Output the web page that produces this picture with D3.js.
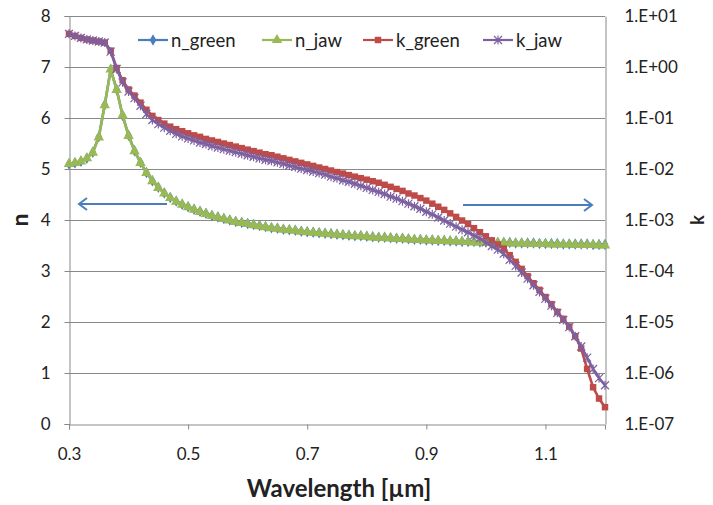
<!DOCTYPE html>
<html>
<head>
<meta charset="utf-8">
<script src="https://cdn.jsdelivr.net/npm/d3@7"></script>
<style>
  body { margin: 0; background: #fff; }
  svg { font-family: Lato, "Open Sans", sans-serif; }
</style>
</head>
<body>
<div class="grafico"></div>
<script>
// wavelength in um, sampled every 10 nm
var wavelength = [
  0.30,0.31,0.32,0.33,0.34,0.35,0.36,0.37,0.38,0.39,
  0.40,0.41,0.42,0.43,0.44,0.45,0.46,0.47,0.48,0.49,
  0.50,0.51,0.52,0.53,0.54,0.55,0.56,0.57,0.58,0.59,
  0.60,0.61,0.62,0.63,0.64,0.65,0.66,0.67,0.68,0.69,
  0.70,0.71,0.72,0.73,0.74,0.75,0.76,0.77,0.78,0.79,
  0.80,0.81,0.82,0.83,0.84,0.85,0.86,0.87,0.88,0.89,
  0.90,0.91,0.92,0.93,0.94,0.95,0.96,0.97,0.98,0.99,
  1.00,1.01,1.02,1.03,1.04,1.05,1.06,1.07,1.08,1.09,
  1.10,1.11,1.12,1.13,1.14,1.15,1.16,1.17,1.18,1.19,
  1.20];

var nGreen = [
  5.10,5.12,5.15,5.21,5.33,5.63,6.26,6.95,6.56,6.05,
  5.66,5.36,5.13,4.93,4.77,4.64,4.53,4.44,4.37,4.31,
  4.26,4.21,4.17,4.13,4.09,4.06,4.03,4.00,3.97,3.95,
  3.93,3.91,3.89,3.87,3.85,3.84,3.82,3.81,3.80,3.78,
  3.77,3.76,3.75,3.74,3.73,3.72,3.71,3.70,3.69,3.69,
  3.68,3.67,3.66,3.66,3.65,3.64,3.64,3.63,3.62,3.62,
  3.61,3.61,3.60,3.60,3.59,3.59,3.58,3.58,3.58,3.57,
  3.57,3.57,3.56,3.56,3.56,3.55,3.55,3.55,3.55,3.54,
  3.54,3.54,3.54,3.53,3.53,3.53,3.53,3.53,3.52,3.52,
  3.52];

var nJaw = [
  5.10,5.12,5.15,5.21,5.32,5.62,6.25,6.95,6.55,6.05,
  5.65,5.35,5.12,4.92,4.76,4.63,4.52,4.43,4.36,4.30,
  4.25,4.20,4.16,4.12,4.08,4.05,4.02,3.99,3.96,3.94,
  3.92,3.90,3.88,3.86,3.84,3.83,3.81,3.80,3.79,3.77,
  3.76,3.75,3.74,3.73,3.72,3.71,3.70,3.69,3.68,3.68,
  3.67,3.66,3.65,3.65,3.64,3.63,3.63,3.62,3.61,3.61,
  3.60,3.60,3.59,3.59,3.58,3.58,3.57,3.57,3.56,3.56,
  3.56,3.55,3.55,3.55,3.54,3.54,3.54,3.53,3.53,3.53,
  3.53,3.52,3.52,3.52,3.52,3.51,3.51,3.51,3.51,3.50,
  3.50];

var kGreen = [
  4.47,4.07,3.72,3.47,3.31,3.16,3.02,2.09,9.55e-1,5.50e-1,
  3.63e-1,2.75e-1,2.00e-1,1.45e-1,1.10e-1,9.12e-2,7.76e-2,6.76e-2,6.03e-2,5.50e-2,
  5.01e-2,4.57e-2,4.27e-2,3.89e-2,3.63e-2,3.39e-2,3.16e-2,2.95e-2,2.75e-2,2.57e-2,
  2.40e-2,2.24e-2,2.09e-2,1.95e-2,1.86e-2,1.74e-2,1.62e-2,1.51e-2,1.41e-2,1.32e-2,
  1.23e-2,1.15e-2,1.07e-2,1.00e-2,9.33e-3,8.71e-3,8.13e-3,7.59e-3,7.08e-3,6.61e-3,
  6.17e-3,5.75e-3,5.37e-3,4.90e-3,4.47e-3,4.07e-3,3.72e-3,3.31e-3,3.02e-3,2.69e-3,
  2.40e-3,2.09e-3,1.82e-3,1.58e-3,1.35e-3,1.15e-3,9.77e-4,8.32e-4,6.92e-4,5.75e-4,
  4.79e-4,3.98e-4,3.31e-4,2.75e-4,2.04e-4,1.51e-4,1.10e-4,7.94e-5,5.75e-5,4.27e-5,
  3.09e-5,2.24e-5,1.58e-5,1.15e-5,8.13e-6,5.25e-6,3.02e-6,1.20e-6,5.25e-7,3.16e-7,
  2.14e-7];

var kJaw = [
  4.47,4.07,3.72,3.47,3.31,3.16,3.02,2.00,9.12e-1,5.01e-1,
  3.31e-1,2.45e-1,1.74e-1,1.20e-1,9.12e-2,7.59e-2,6.46e-2,5.62e-2,4.90e-2,4.37e-2,
  3.98e-2,3.63e-2,3.31e-2,3.09e-2,2.82e-2,2.63e-2,2.45e-2,2.29e-2,2.14e-2,2.00e-2,
  1.86e-2,1.74e-2,1.62e-2,1.51e-2,1.45e-2,1.35e-2,1.26e-2,1.17e-2,1.10e-2,1.02e-2,
  9.55e-3,8.91e-3,8.32e-3,7.76e-3,7.08e-3,6.61e-3,6.03e-3,5.62e-3,5.13e-3,4.68e-3,
  4.27e-3,3.89e-3,3.55e-3,3.24e-3,2.88e-3,2.63e-3,2.34e-3,2.09e-3,1.86e-3,1.66e-3,
  1.45e-3,1.29e-3,1.12e-3,9.77e-4,8.51e-4,7.41e-4,6.46e-4,5.75e-4,5.01e-4,4.37e-4,
  3.63e-4,3.09e-4,2.63e-4,2.19e-4,1.66e-4,1.26e-4,9.33e-5,7.08e-5,5.25e-5,3.89e-5,
  2.88e-5,2.09e-5,1.51e-5,1.10e-5,7.94e-6,5.25e-6,3.31e-6,2.00e-6,1.20e-6,7.94e-7,
  5.75e-7];

var xTicks = [0.3, 0.5, 0.7, 0.9, 1.1];
var nTicks = [0, 1, 2, 3, 4, 5, 6, 7, 8];
var kTicks = [1e-7, 1e-6, 1e-5, 1e-4, 1e-3, 1e-2, 1e-1, 1e0, 1e1];
var kTickLabels = ["1.E-07","1.E-06","1.E-05","1.E-04","1.E-03","1.E-02","1.E-01","1.E+00","1.E+01"];
var seriesNames = ["n_green", "n_jaw", "k_green", "k_jaw"];

var W = 713, H = 505;
var margin = {top: 16, right: 108, bottom: 81, left: 69},
    width = W - margin.left - margin.right,
    height = H - margin.top - margin.bottom;

var svg = d3.select(".grafico")
  .append("svg")
  .attr("width", W)
  .attr("height", H)
  .append("g")
  .attr("transform", "translate(" + margin.left + "," + margin.top + ")");

var x = d3.scaleLinear().domain([0.3, 1.2]).range([0, width]);
var yN = d3.scaleLinear().domain([0, 8]).range([height, 0]);
var yK = d3.scaleLog().domain([1e-7, 1e1]).range([height, 0]);

var gridColor = "#898989";
var textColor = "#222";

// horizontal gridlines
svg.selectAll(".grid")
  .data(nTicks.slice(1))
  .enter()
  .append("line")
  .attr("x1", 0).attr("x2", width)
  .attr("y1", function(d){ return Math.round(yN(d)) + 0.5; })
  .attr("y2", function(d){ return Math.round(yN(d)) + 0.5; })
  .style("stroke", gridColor)
  .style("stroke-width", 1);

// axes
var gx = svg.append("g")
  .attr("transform", "translate(0," + (height + 0.5) + ")")
  .call(d3.axisBottom(x).tickValues(xTicks).tickSize(5).tickPadding(18).tickFormat(d3.format(".1f")));

var gy = svg.append("g")
  .attr("transform", "translate(0.5,0)")
  .call(d3.axisLeft(yN).tickValues(nTicks).tickSize(5).tickPadding(14).tickFormat(d3.format("d")));

var gk = svg.append("g")
  .attr("transform", "translate(" + (width + 0.5) + ",0)")
  .call(d3.axisRight(yK).tickValues(kTicks).tickSize(0).tickPadding(19)
    .tickFormat(function(d, i){ return kTickLabels[i]; }));

[gx, gy, gk].forEach(function(g){
  g.select(".domain").style("stroke", gridColor);
  g.selectAll(".tick line").style("stroke", gridColor);
  g.selectAll(".tick text")
    .style("font-size", "17px")
    .style("fill", textColor)
    .style("font-family", "Lato, sans-serif");
});

// series
var color = {n_green: "#4a7ebb", n_jaw: "#98b954", k_green: "#be4b48", k_jaw: "#7d60a0"};

var series = [
  {name: "n_green", vals: nGreen, y: yN, sym: "diamond"},
  {name: "n_jaw", vals: nJaw, y: yN, sym: "triangle"},
  {name: "k_green", vals: kGreen, y: yK, sym: "square"},
  {name: "k_jaw", vals: kJaw, y: yK, sym: "star"}
];

function marker(sel, sym, c) {
  if (sym == "star") {
    sel.append("path")
      .attr("d", "M-4,-4L4,4M-4,4L4,-4M0,-4.5L0,4.5")
      .style("stroke", c).style("stroke-width", 1.2).style("fill", "none");
  } else {
    var s = {diamond: [d3.symbolDiamond, 38], triangle: [d3.symbolTriangle, 48], square: [d3.symbolSquare, 42]}[sym];
    sel.append("path")
      .attr("d", d3.symbol().type(s[0]).size(s[1]))
      .style("fill", c).style("stroke", "none");
  }
}

series.forEach(function(s){
  var pts = wavelength.map(function(w, i){ return [x(w), s.y(s.vals[i])]; });
  svg.append("path")
    .attr("d", d3.line()(pts))
    .style("fill", "none")
    .style("stroke", color[s.name])
    .style("stroke-width", 2.6);
  svg.selectAll(".m-" + s.name)
    .data(pts)
    .enter()
    .append("g")
    .attr("class", "m-" + s.name)
    .attr("transform", function(p){ return "translate(" + p[0] + "," + p[1] + ")"; })
    .each(function(){ marker(d3.select(this), s.sym, color[s.name]); });
});

// arrows
function arrow(x1, x2, yy) {
  var dir = x2 > x1 ? -1 : 1;
  svg.append("path")
    .attr("d", "M" + x1 + "," + yy + "L" + x2 + "," + yy +
      "M" + (x2 + dir * 8) + "," + (yy - 6) + "L" + x2 + "," + yy + "L" + (x2 + dir * 8) + "," + (yy + 6))
    .style("fill", "none")
    .style("stroke", "#4a7ebb")
    .style("stroke-width", 2);
}
arrow(167 - margin.left, 79 - margin.left, 204 - margin.top);
arrow(463 - margin.left, 592 - margin.left, 205 - margin.top);

// legend
var legendX = [138, 262, 363, 483];
var leg = svg.append("g").attr("transform", "translate(" + (-margin.left) + "," + (-margin.top) + ")");
series.forEach(function(s, i){
  var g = leg.append("g").attr("transform", "translate(" + legendX[i] + ",40)");
  g.append("line").attr("x1", 0).attr("x2", 30).attr("y1", 0).attr("y2", 0)
    .style("stroke", color[s.name]).style("stroke-width", 2.2);
  marker(g.append("g").attr("transform", "translate(15,0)"), s.sym, color[s.name]);
  g.append("text")
    .attr("x", 33).attr("y", 7)
    .style("font-size", "18.5px")
    .style("fill", textColor)
    .text(seriesNames[i]);
});

// axis titles
svg.append("text")
  .attr("x", width / 2 + 2).attr("y", height + 73)
  .attr("text-anchor", "middle")
  .style("font-size", "24px").style("font-weight", "bold").style("fill", textColor)
  .text("Wavelength [µm]");

svg.append("text")
  .attr("transform", "translate(" + (28 - margin.left) + "," + yN(4) + ") rotate(-90)")
  .attr("text-anchor", "middle")
  .style("font-size", "23px").style("font-weight", "bold").style("fill", textColor)
  .text("n");

svg.append("text")
  .attr("transform", "translate(" + (704 - margin.left) + "," + yN(4) + ") rotate(-90)")
  .attr("text-anchor", "middle")
  .style("font-size", "18px").style("font-weight", "bold").style("fill", textColor)
  .text("k");
</script>
</body>
</html>
